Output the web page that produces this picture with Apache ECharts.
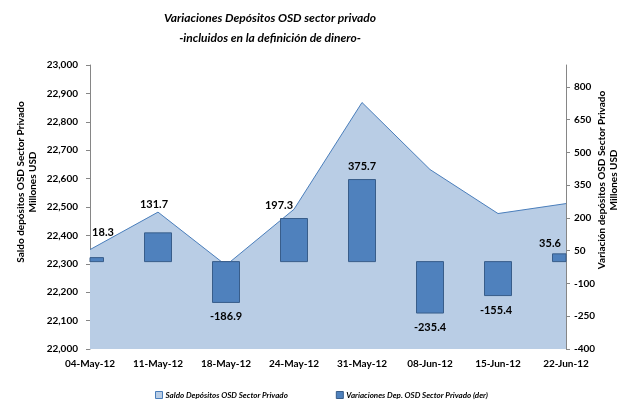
<!DOCTYPE html>
<html>
<head>
<meta charset="utf-8">
<script src="https://cdn.jsdelivr.net/npm/echarts@6/dist/echarts.min.js"></script>
<style>
  html, body { margin: 0; padding: 0; background: #fff; }
  #chart { width: 621px; height: 410px; }
</style>
</head>
<body>
<div id="chart"></div>
<script>
var fechas = ['04-May-12', '11-May-12', '18-May-12', '24-May-12', '31-May-12', '08-Jun-12', '15-Jun-12', '22-Jun-12'];
var saldo = [22350, 22482, 22295, 22492, 22868, 22632, 22477, 22512];
var variaciones = [18.3, 131.7, -186.9, 197.3, 375.7, -235.4, -155.4, 35.6];

var fuente = 'Lato, "Noto Sans", sans-serif';
// desplazamiento manual de las etiquetas, como en el original
var labelOffsets = [[13, -15], [-4, -18], [0, 4], [-15, -3], [0, -3], [0, 4], [-2, 4], [-16, 0]];
var anchoBarra = 27;

var barData = variaciones.map(function (v, i) {
    return {
        value: v,
        label: {
            position: v < 0 ? 'bottom' : 'top',
            offset: labelOffsets[i]
        }
    };
});

// barras recortadas al área del gráfico (las de los extremos quedan a medias)
function renderBarra(params, api) {
    var base = api.coord([api.value(0), 0]);
    var tope = api.coord([api.value(0), api.value(1)]);
    var y0 = Math.min(base[1], tope[1]);
    var rect = echarts.graphic.clipRectByRect({
        x: base[0] - anchoBarra / 2,
        y: y0,
        width: anchoBarra,
        height: Math.abs(base[1] - tope[1])
    }, {
        x: params.coordSys.x,
        y: params.coordSys.y,
        width: params.coordSys.width,
        height: params.coordSys.height
    });
    return rect && {
        type: 'rect',
        shape: rect,
        style: { fill: '#4F81BD', stroke: '#385D8A', lineWidth: 1 }
    };
}

var option = {
    animation: false,
    textStyle: { fontFamily: fuente },
    grid: { left: 90, right: 55, top: 65, bottom: 61 },
    graphic: [
        {
            type: 'text', x: 270, y: 28,
            style: {
                text: 'Variaciones Depósitos OSD sector privado\n-incluidos en la definición de dinero-',
                font: 'italic bold 12px ' + fuente,
                lineHeight: 20,
                textAlign: 'center', textVerticalAlign: 'middle',
                align: 'center', verticalAlign: 'middle',
                fill: '#000'
            }
        },
        {
            type: 'text', x: 27, y: 182, rotation: Math.PI / 2,
            style: {
                text: 'Saldo depósitos OSD Sector Privado\nMillones USD',
                font: 'bold 10px ' + fuente,
                lineHeight: 12,
                textAlign: 'center', textVerticalAlign: 'middle',
                align: 'center', verticalAlign: 'middle',
                fill: '#000'
            }
        },
        {
            type: 'text', x: 608, y: 180, rotation: Math.PI / 2,
            style: {
                text: 'Variación depósitos OSD Sector Privado\nMillones USD',
                font: 'bold 10px ' + fuente,
                lineHeight: 12,
                textAlign: 'center', textVerticalAlign: 'middle',
                align: 'center', verticalAlign: 'middle',
                fill: '#000'
            }
        }
    ],
    legend: {
        bottom: 6,
        left: 150,
        itemGap: 48,
        itemWidth: 7,
        itemHeight: 7,
        icon: 'rect',
        textStyle: { fontSize: 8, fontStyle: 'italic', fontWeight: 'bold', color: '#000', padding: [0, 0, 0, -2] },
        data: [
            { name: 'Saldo Depósitos OSD Sector Privado', itemStyle: { color: '#B9CDE5', borderColor: '#4A7EBB', borderWidth: 1 } },
            { name: 'Variaciones Dep. OSD Sector Privado (der)', itemStyle: { color: '#4F81BD', borderColor: '#385D8A', borderWidth: 1 } }
        ]
    },
    xAxis: {
        type: 'category',
        data: fechas,
        boundaryGap: false,
        axisLine: { lineStyle: { color: '#868686' } },
        axisTick: { alignWithLabel: true, length: 4, lineStyle: { color: '#868686' } },
        axisLabel: { color: '#000', fontWeight: 'bold', fontSize: 10, margin: 10, interval: 0 },
        splitLine: { show: false }
    },
    yAxis: [
        {
            type: 'value',
            min: 22000,
            max: 23000,
            interval: 100,
            axisLine: { show: true, lineStyle: { color: '#868686' } },
            axisTick: { show: true, length: 4, lineStyle: { color: '#868686' } },
            axisLabel: { color: '#000', fontWeight: 'bold', fontSize: 10, margin: 12 },
            splitLine: { show: false }
        },
        {
            type: 'value',
            min: -400,
            max: 900,
            interval: 150,
            position: 'right',
            axisLine: { show: true, lineStyle: { color: '#868686' } },
            axisTick: { show: true, length: 4, lineStyle: { color: '#868686' } },
            axisLabel: { color: '#000', fontWeight: 'bold', fontSize: 10, margin: 8, showMaxLabel: false },
            splitLine: { show: false }
        }
    ],
    series: [
        {
            name: 'Saldo Depósitos OSD Sector Privado',
            type: 'line',
            data: saldo,
            yAxisIndex: 0,
            symbol: 'none',
            lineStyle: { color: '#4A7EBB', width: 1 },
            itemStyle: { color: '#B9CDE5' },
            areaStyle: { color: '#B9CDE5', opacity: 1 },
            z: 1
        },
        {
            type: 'custom',
            yAxisIndex: 1,
            renderItem: renderBarra,
            encode: { x: 0, y: 1 },
            data: variaciones.map(function (v, i) { return [i, v]; }),
            silent: true,
            z: 2
        },
        {
            // solo etiquetas
            name: 'Variaciones Dep. OSD Sector Privado (der)',
            type: 'bar',
            data: barData,
            yAxisIndex: 1,
            barWidth: anchoBarra,
            itemStyle: { color: 'rgba(0,0,0,0)', borderWidth: 0 },
            label: {
                show: true,
                color: '#000',
                fontWeight: 'bold',
                fontSize: 11,
                formatter: function (p) { return p.value.toFixed(1); }
            },
            z: 3
        }
    ]
};

var chart = echarts.init(document.getElementById('chart'));
chart.setOption(option);
</script>
</body>
</html>
